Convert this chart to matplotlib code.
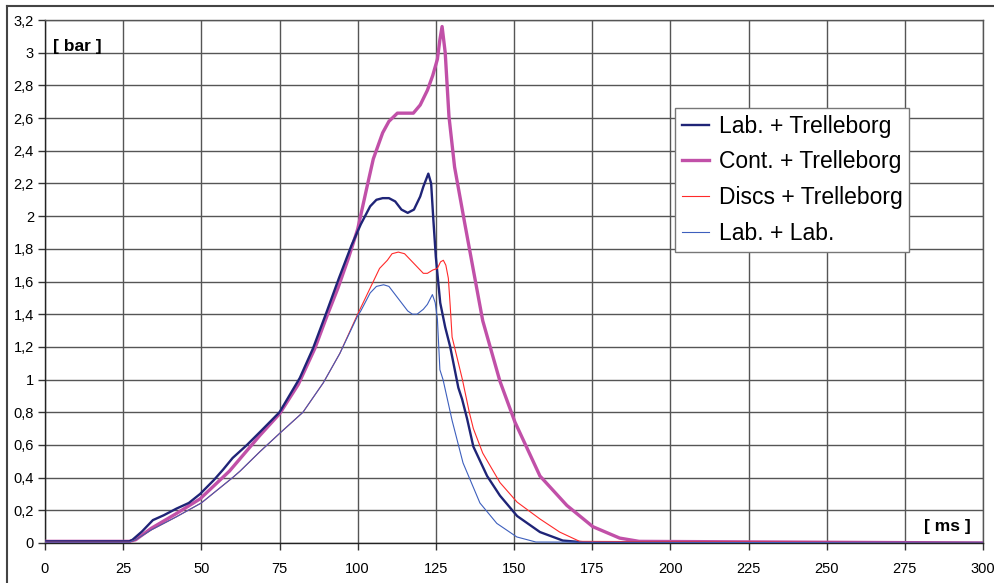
import numpy as np
import matplotlib.pyplot as plt
from matplotlib.lines import Line2D

plt.rcParams['font.family'] = ['Liberation Sans', 'DejaVu Sans']

# Lab. + Trelleborg
t_lab_trel = [0, 20, 27, 28, 31, 34.5, 38, 42, 46, 49.6, 54, 57, 60, 64.6, 68.8, 75, 81.5,
              85.7, 90, 94, 98, 101, 104, 106, 108, 110, 112, 114, 116, 118, 120, 121,
              122.6, 123.5, 124.2, 125, 126.4, 128, 129.6, 132.2, 133.4, 135, 137,
              141.4, 145.5, 151, 158.3, 165.6, 175, 300]
p_lab_trel = [0.01, 0.01, 0.01, 0.02, 0.07, 0.14, 0.17, 0.21, 0.245, 0.30, 0.385, 0.45,
              0.52, 0.60, 0.68, 0.80, 1.01, 1.19, 1.41, 1.62, 1.82, 1.95, 2.06, 2.10, 2.11,
              2.11, 2.09, 2.04, 2.02, 2.04, 2.12, 2.18, 2.26, 2.20, 1.98, 1.75, 1.47,
              1.32, 1.20, 0.95, 0.88, 0.76, 0.59, 0.41, 0.29, 0.165, 0.067, 0.015, 0.0, 0.0]

# Cont. + Trelleborg
t_cont = [0, 20, 27, 29, 34, 42, 49.6, 59, 68.8, 75, 81, 86.3, 90.2, 93.7, 97, 100, 103,
          105, 108, 110, 112.7, 115, 117.8, 120, 122.3, 124, 125.5, 126.3, 127, 128,
          129.2, 131, 134.3, 137, 140, 145.5, 150.3, 158.3, 166.9, 175.2, 183.8, 190, 300]
p_cont = [0.01, 0.01, 0.01, 0.02, 0.09, 0.18, 0.27, 0.44, 0.66, 0.79, 0.97, 1.19, 1.39,
          1.56, 1.74, 1.92, 2.18, 2.35, 2.51, 2.58, 2.63, 2.63, 2.63, 2.68, 2.77, 2.86,
          2.96, 3.08, 3.16, 3.00, 2.61, 2.30, 1.95, 1.67, 1.36, 0.99, 0.74, 0.41, 0.23,
          0.10, 0.03, 0.01, 0.0]

# Discs + Trelleborg
t_discs = [0, 20, 27, 29, 34, 42, 50, 60, 62.4, 68.8, 75, 82.5, 89, 94.3, 100, 102, 105,
           107, 109.5, 111, 113, 115, 117, 119, 121, 122.3, 124, 125.5, 126.5, 127.4,
           128.2, 129, 129.6, 130.2, 133.5, 135.7, 137, 140, 145.5, 151, 158.3, 164.6,
           171, 300]
p_discs = [0.005, 0.005, 0.005, 0.02, 0.08, 0.16, 0.245, 0.40, 0.44, 0.56, 0.67, 0.80,
           0.98, 1.16, 1.40, 1.48, 1.60, 1.68, 1.73, 1.77, 1.78, 1.77, 1.73, 1.69, 1.65,
           1.65, 1.67, 1.68, 1.72, 1.73, 1.70, 1.62, 1.45, 1.26, 1.00, 0.80, 0.70, 0.55,
           0.37, 0.25, 0.147, 0.067, 0.01, 0.0]

# Lab. + Lab.
t_lab_lab = [0, 20, 27, 29, 34, 42, 50, 60, 62.4, 68.8, 75, 82.5, 89, 94.3, 100, 101, 104,
             106, 108.3, 110, 112, 114, 116, 117.5, 119, 121, 122.3, 123.9, 124.8, 125.5,
             126.3, 127.3, 130.2, 133.7, 139.1, 144.5, 150.9, 157, 300]
p_lab_lab = [0.005, 0.005, 0.005, 0.02, 0.08, 0.16, 0.245, 0.40, 0.44, 0.56, 0.67, 0.80,
             0.98, 1.16, 1.39, 1.42, 1.53, 1.57, 1.58, 1.57, 1.52, 1.47, 1.42, 1.40, 1.40,
             1.43, 1.46, 1.52, 1.47, 1.37, 1.06, 1.00, 0.75, 0.49, 0.245, 0.12, 0.037,
             0.006, 0.0]

labels = ['Lab. + Trelleborg', 'Cont. + Trelleborg', 'Discs + Trelleborg', 'Lab. + Lab.']
x_ticks = np.arange(0, 301, 25)
y_ticks = np.arange(0, 3.21, 0.2)

fig = plt.figure(figsize=(9.95, 5.83), dpi=100)
ax = fig.add_axes([45/995, 1 - 543/583, (983 - 45)/995, (543 - 20)/583])

ax.plot(t_lab_trel, p_lab_trel, color='#1f2477', lw=1.7, label=labels[0], zorder=4)
ax.plot(t_cont, p_cont, color='#c150a8', lw=2.4, label=labels[1], zorder=3)
ax.plot(t_discs, p_discs, color='#ff2a2a', lw=0.8, label=labels[2], zorder=5)
ax.plot(t_lab_lab, p_lab_lab, color='#3d5fbd', lw=0.8, label=labels[3], zorder=6)

ax.set_xlim(0, 300)
ax.set_ylim(0, 3.2)
ax.set_xticks(x_ticks)
ax.set_yticks(y_ticks)
ax.set_xticklabels([str(v) for v in x_ticks])
ax.set_yticklabels([('%g' % round(v, 1)).replace('.', ',') for v in y_ticks])
ax.tick_params(direction='out', length=5, width=1, color='#333333', labelsize=10.5)
ax.tick_params(axis='x', pad=9)
ax.tick_params(axis='y', pad=3)
ax.grid(True, color='#555555', lw=1)
ax.set_axisbelow(True)
for s in ax.spines.values():
    s.set_color('#555555')
    s.set_linewidth(1)
ax.spines['left'].set_color('#222222')
ax.spines['bottom'].set_color('#222222')

ax.text(2.6, 3.04, '[ bar ]', fontsize=12.5, fontweight='bold', va='center', ha='left')
ax.text(296, 0.1, '[ ms ]', fontsize=12.5, fontweight='bold', va='center', ha='right')

leg = ax.legend(loc='upper left', bbox_to_anchor=(675/995, 1 - 108/583),
                bbox_transform=fig.transFigure, fontsize=16.5, frameon=True,
                fancybox=False, framealpha=1, edgecolor='#777777',
                handlelength=1.2, handletextpad=0.4, labelspacing=0.55,
                borderpad=0.3, borderaxespad=0)
leg.get_frame().set_linewidth(1)

# outer frame of the picture
fig.add_artist(Line2D([7/995, 7/995], [0, 1 - 6/583], transform=fig.transFigure,
                      color='#444444', lw=1.5))
fig.add_artist(Line2D([7/995, 1], [1 - 6/583, 1 - 6/583], transform=fig.transFigure,
                      color='#444444', lw=1.5))

fig.savefig('out.png', dpi=100)
